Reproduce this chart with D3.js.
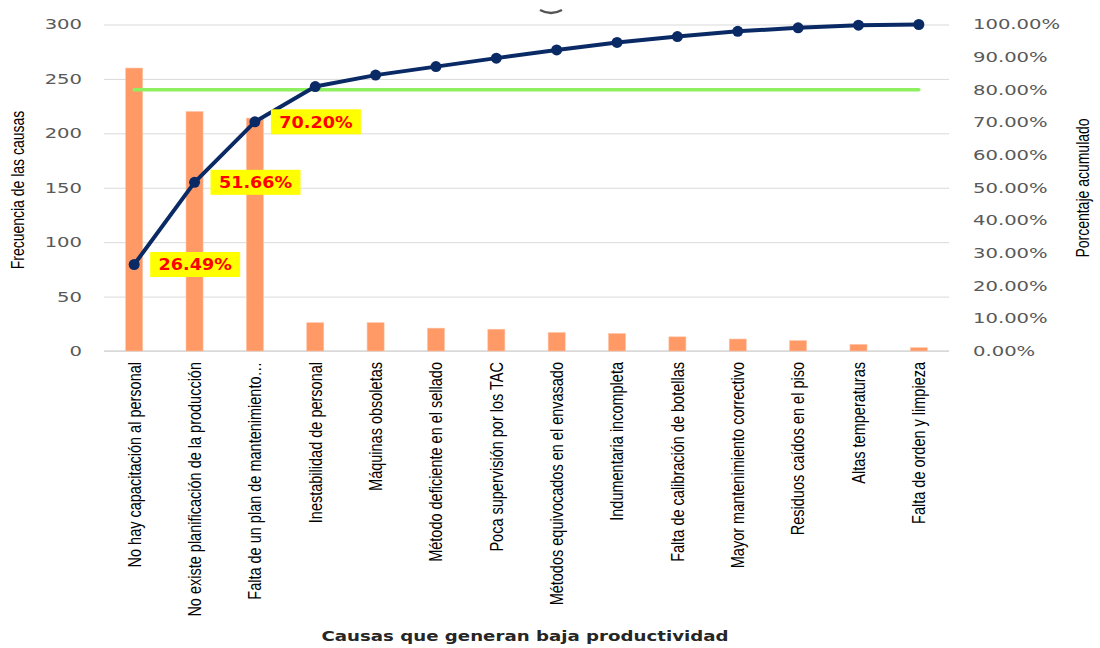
<!DOCTYPE html>
<html>
<head>
<meta charset="utf-8">
<script src="https://cdn.jsdelivr.net/npm/d3@7"></script>
<style>
  body { margin: 0; background: #fff; }
  svg { display: block; }
</style>
</head>
<body>
<svg id="chart"></svg>
<script>
// causas (eje x)
var causas = [
  "No hay capacitación al personal",
  "No existe planificación de la producción",
  "Falta de un plan de mantenimiento…",
  "Inestabilidad de personal",
  "Máquinas obsoletas",
  "Método deficiente en el sellado",
  "Poca supervisión por los TAC",
  "Métodos equivocados en el envasado",
  "Indumentaria incompleta",
  "Falta de calibración de botellas",
  "Mayor mantenimiento correctivo",
  "Residuos caídos en el piso",
  "Altas temperaturas",
  "Falta de orden y limpieza"
];
// frecuencia de cada causa (barras)
var frecuencia = [260, 220, 214, 26, 26, 21, 20, 17, 16, 13, 11, 9.5, 6, 3];
// porcentaje acumulado (linea)
var acumulado = [0.2649, 0.5166, 0.7020, 0.81, 0.845, 0.871, 0.897, 0.922, 0.945, 0.963, 0.979, 0.99, 0.998, 1.0];
// linea del 80%
var meta = [0.8, 0.8, 0.8, 0.8, 0.8, 0.8, 0.8, 0.8, 0.8, 0.8, 0.8, 0.8, 0.8, 0.8];
// puntos con etiqueta
var etiquetados = [0, 1, 2];
var ticksFrec = [0, 50, 100, 150, 200, 250, 300];
var ticksPct = [0, 0.1, 0.2, 0.3, 0.4, 0.5, 0.6, 0.7, 0.8, 0.9, 1.0];

var W = 1100, H = 648;
var mLeft = 104, mRight = 949, mTop = 24.5, mBottom = 351;
var stretch = 1.4;     // textos horizontales
var stretchV = 1.25;   // textos verticales

var svg = d3.select("#chart").attr("width", W).attr("height", H);

var x = d3.scaleBand().domain(causas).range([mLeft, mRight]).paddingInner(0.718).paddingOuter(0.359);
var yL = d3.scaleLinear().domain([0, 300]).range([mBottom, mTop]);
var yR = d3.scaleLinear().domain([0, 1]).range([mBottom, mTop]);

// eje izquierdo + grid
var gL = svg.append("g").attr("transform", "translate(" + mLeft + ",0)")
  .call(d3.axisLeft(yL).tickValues(ticksFrec).tickSize(-(mRight - mLeft)).tickPadding(22));
gL.select(".domain").remove();
gL.selectAll("line").attr("stroke", "#d9d9d9");
gL.selectAll("text")
  .attr("x", -22 / stretch)
  .attr("transform", "scale(" + stretch + ",1)")
  .attr("fill", "#595959")
  .style("font-family", "DejaVu Sans")
  .style("font-size", "14px");

// eje derecho
var gR = svg.append("g").attr("transform", "translate(" + mRight + ",0)")
  .call(d3.axisRight(yR).tickValues(ticksPct).tickSize(0).tickPadding(24).tickFormat(d3.format(".2%")));
gR.select(".domain").remove();
gR.selectAll("text")
  .attr("x", 24 / stretch)
  .attr("transform", "scale(" + stretch + ",1)")
  .attr("fill", "#595959")
  .style("font-family", "DejaVu Sans")
  .style("font-size", "14px");

// eje x
var gX = svg.append("g").attr("transform", "translate(0," + mBottom + ")")
  .call(d3.axisBottom(x).tickSize(0).tickPadding(0));
gX.select(".domain").attr("stroke", "#d9d9d9").attr("stroke-width", 1.5).attr("d", "M" + mLeft + ",0H" + mRight);
gX.selectAll("text")
  .attr("y", 0)
  .attr("text-anchor", "end")
  .attr("transform", "translate(0,11) scale(" + stretchV + ",1) rotate(-90)")
  .attr("dy", "0.35em")
  .attr("fill", "#000")
  .style("font-family", "Liberation Sans")
  .style("font-size", "14.5px");

// barras
svg.append("g").selectAll("rect").data(frecuencia).enter().append("rect")
  .attr("x", function(d, i) { return x(causas[i]); })
  .attr("y", function(d) { return yL(d); })
  .attr("width", x.bandwidth())
  .attr("height", function(d) { return yL(0) - yL(d); })
  .attr("fill", "#ff9966")
  .attr("stroke", "#ffc2a3")
  .attr("stroke-width", 0.6);

var cx = function(i) { return x(causas[i]) + x.bandwidth() / 2; };

// linea 80%
svg.append("path")
  .datum(meta)
  .attr("d", d3.line().x(function(d, i) { return cx(i); }).y(function(d) { return yR(d); }))
  .attr("fill", "none")
  .attr("stroke", "#8ef05e")
  .attr("stroke-width", 3.5)
  .attr("stroke-linecap", "round");

// linea acumulada
svg.append("path")
  .datum(acumulado)
  .attr("d", d3.line().x(function(d, i) { return cx(i); }).y(function(d) { return yR(d); }))
  .attr("fill", "none")
  .attr("stroke", "#0a2a66")
  .attr("stroke-width", 4)
  .attr("stroke-linejoin", "round");

svg.append("g").selectAll("circle").data(acumulado).enter().append("circle")
  .attr("cx", function(d, i) { return cx(i); })
  .attr("cy", function(d) { return yR(d); })
  .attr("r", 5.5)
  .attr("fill", "#0a2a66");

// etiquetas
var lab = svg.append("g").selectAll("g").data(etiquetados).enter().append("g")
  .attr("transform", function(i) { return "translate(" + (cx(i) + 16) + "," + yR(acumulado[i]) + ")"; });
lab.append("rect")
  .attr("x", 0).attr("y", -12.5).attr("width", 90).attr("height", 25)
  .attr("fill", "#ffff00");
lab.append("text")
  .attr("transform", "translate(45,0) scale(1.1,1)")
  .attr("text-anchor", "middle")
  .attr("dy", "0.36em")
  .attr("fill", "#ff0000")
  .style("font-family", "DejaVu Sans")
  .style("font-weight", "bold")
  .style("font-size", "16px")
  .text(function(i) { return d3.format(".2%")(acumulado[i]); });

// titulos de ejes
svg.append("text")
  .attr("transform", "translate(18,190) scale(" + stretchV + ",1) rotate(-90)")
  .attr("text-anchor", "middle").attr("dy", "0.35em")
  .style("font-family", "Liberation Sans").style("font-size", "14px")
  .text("Frecuencia de las causas");

svg.append("text")
  .attr("transform", "translate(1083,188) scale(" + stretchV + ",1) rotate(-90)")
  .attr("text-anchor", "middle").attr("dy", "0.35em")
  .style("font-family", "Liberation Sans").style("font-size", "14px")
  .text("Porcentaje acumulado");

svg.append("text")
  .attr("transform", "translate(525,641) scale(1.3,1)")
  .attr("text-anchor", "middle")
  .attr("fill", "#262626")
  .style("font-family", "DejaVu Sans").style("font-weight", "bold").style("font-size", "14px")
  .text("Causas que generan baja productividad");

// resto del titulo recortado arriba
svg.append("path")
  .attr("d", "M540,10 Q551,16 562,10")
  .attr("fill", "none").attr("stroke", "#555").attr("stroke-width", 2.5);
</script>
</body>
</html>
